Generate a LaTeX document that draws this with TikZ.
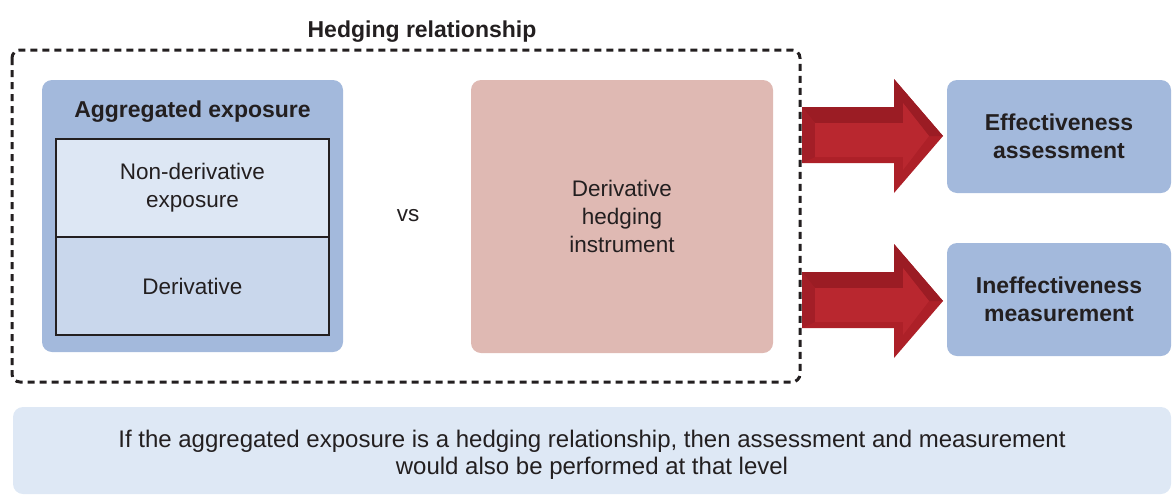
\documentclass[tikz,border=0pt]{standalone}
\usepackage{fontspec}
\setmainfont{Liberation Sans}
\definecolor{txt}{HTML}{231F20}
\definecolor{bluebox}{HTML}{A3B9DC}
\definecolor{lightbox}{HTML}{DDE7F4}
\definecolor{midbox}{HTML}{C9D7EC}
\definecolor{pinkbox}{HTML}{DFB9B3}
\definecolor{notebox}{HTML}{DEE8F5}
\definecolor{redmid}{HTML}{AD2028}
\definecolor{reddark}{HTML}{9B1C24}
\definecolor{redleft}{HTML}{A31E27}
\definecolor{redlight}{HTML}{B9272F}
\tikzset{
  regtext/.style={font=\fontsize{22.5}{28}\selectfont, text=txt, align=center},
  boldtext/.style={font=\fontsize{23}{27.5}\selectfont\bfseries, text=txt, align=center},
  roundbox/.style={rounded corners=10pt, inner sep=0pt},
  cellbox/.style={draw=txt, line width=1.3pt, inner sep=0pt, minimum width=273pt, minimum height=98pt},
}
\newcommand{\blockarrow}[1]{% #1 = vertical shift
  \begin{scope}[yshift=#1]
    \fill[redmid] (802,107) -- (894,107) -- (894,79) -- (943,136) -- (894,193) -- (894,163) -- (802,163) -- cycle;
    \fill[reddark] (802,107) -- (894,107) -- (894,79) -- (943,136) -- (929,136) -- (903,103) -- (903,123) -- (815,123) -- cycle;
    \fill[redleft] (802,107) -- (815,123) -- (815,157) -- (802,163) -- cycle;
    \fill[redlight] (815,123) -- (903,123) -- (903,103) -- (929,136) -- (903,170) -- (903,157) -- (815,157) -- cycle;
  \end{scope}}
\begin{document}
\begin{tikzpicture}[x=1pt,y=-1pt]
\useasboundingbox (0,0) rectangle (1173,496);
% title
\node[boldtext, anchor=base, inner sep=0pt] (title) at (422,37) {Hedging relationship};
% dashed container
\draw[txt, line width=3pt, dash pattern=on 7pt off 5pt, rounded corners=8pt] (12,50) rectangle (800,382);
% aggregated exposure
\node[roundbox, fill=bluebox, minimum width=301pt, minimum height=272pt] (agg) at (192.5,216) {};
\node[boldtext, anchor=base, inner sep=0pt] (aggtitle) at (192.5,117) {Aggregated exposure};
\node[cellbox, fill=lightbox, regtext] (nonder) at (192.5,188) {Non-derivative\\exposure};
\node[cellbox, fill=midbox, regtext] (der) at (192.5,286) {Derivative};
% vs
\node[regtext, anchor=base, inner sep=0pt] (vs) at (408,221) {vs};
% derivative hedging instrument
\node[roundbox, fill=pinkbox, minimum width=302pt, minimum height=273pt, regtext] (instr) at (622,216.5) {Derivative\\hedging\\instrument};
% result boxes
\node[roundbox, fill=bluebox, minimum width=224pt, minimum height=113pt, boldtext] (eff) at (1059,136.5) {Effectiveness\\assessment};
\node[roundbox, fill=bluebox, minimum width=224pt, minimum height=113pt, boldtext] (ineff) at (1059,299.5) {Ineffectiveness\\measurement};
% block arrows
\blockarrow{0pt}
\blockarrow{-165pt}
% note
\node[roundbox, fill=notebox, minimum width=1158pt, minimum height=87pt] (note) at (592,450.5) {};
\node[font=\fontsize{24}{27}\selectfont, text=txt, align=center, inner sep=0pt] (notetext) at (592,455) {If the aggregated exposure is a hedging relationship, then assessment and measurement\\would also be performed at that level};
\end{tikzpicture}
\end{document}
